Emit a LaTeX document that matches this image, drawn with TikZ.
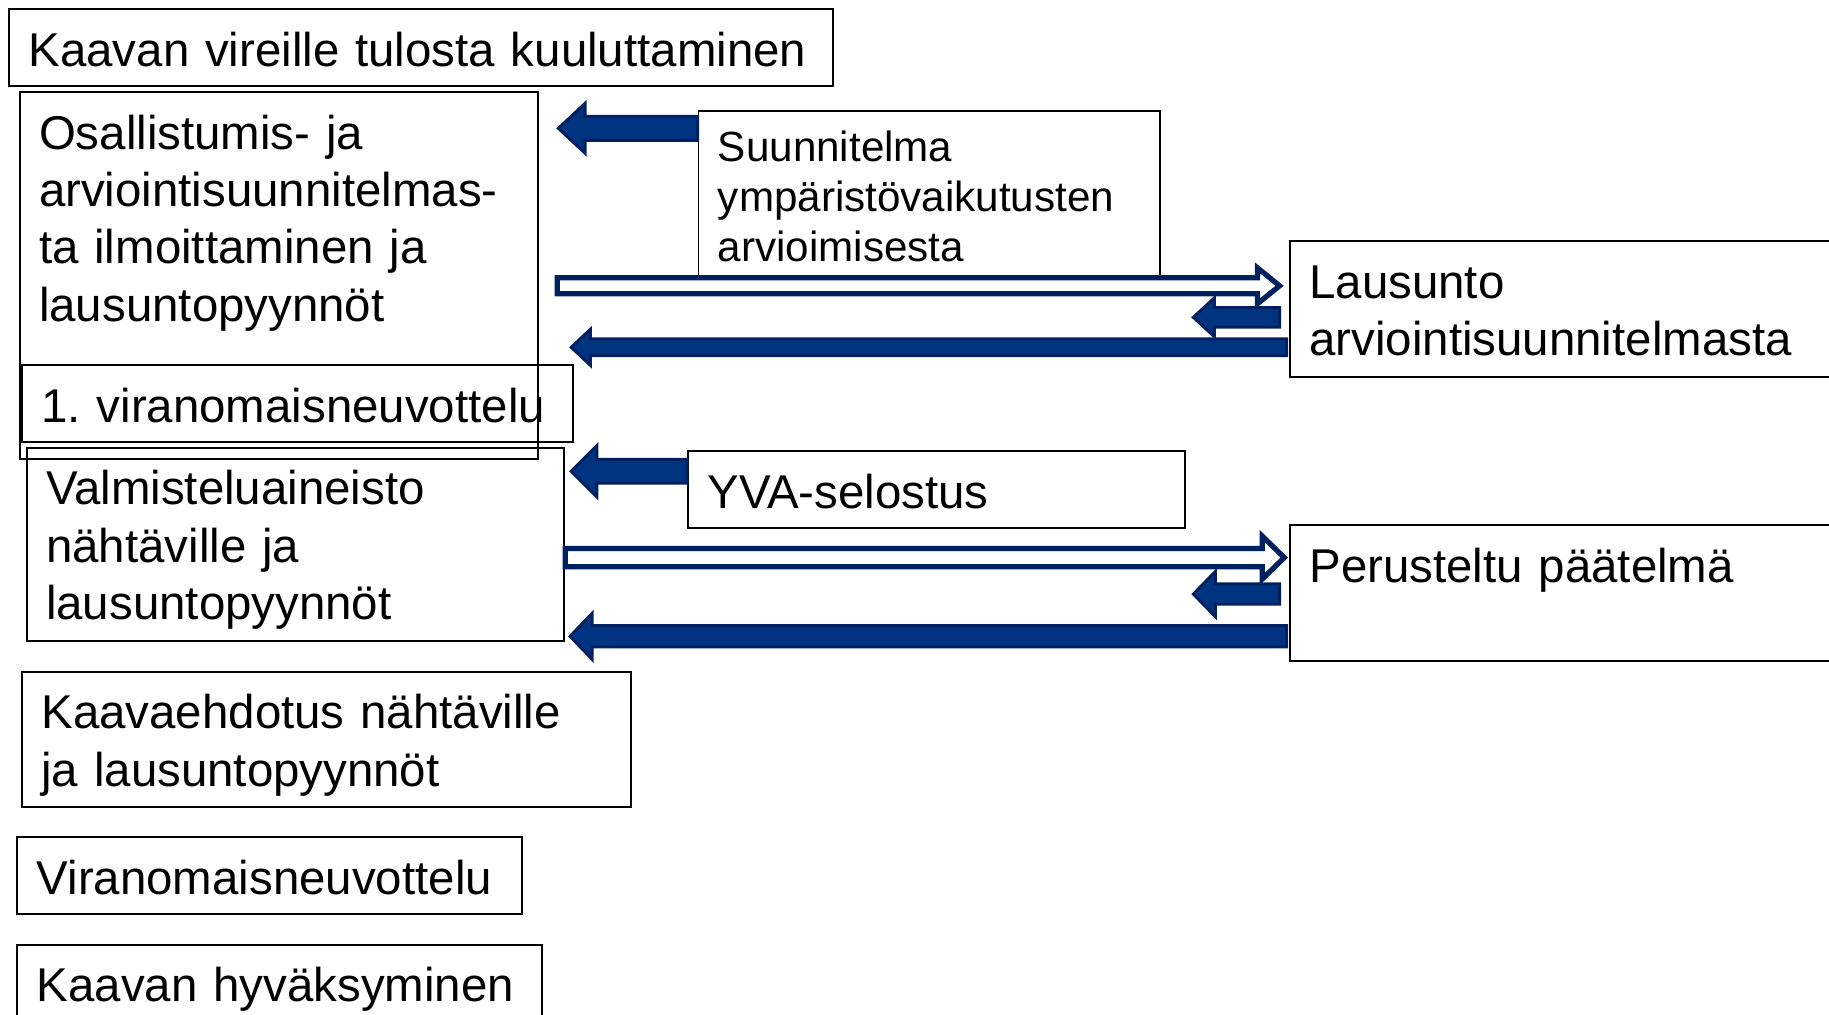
\documentclass[tikz,border=0pt]{standalone}
\usepackage{fontspec}
\setmainfont{Liberation Sans}
\usetikzlibrary{calc}
\frenchspacing
\hyphenpenalty=10000
\definecolor{navyfill}{RGB}{0,51,128}
\definecolor{navyline}{RGB}{0,32,96}
\tikzset{
    box/.style = {draw=black, line width=1pt, anchor=north west, inner xsep=10pt, inner ysep=0pt,
                  align=left, text height=29.4pt, font=\fontsize{24.4}{29.5}\selectfont},
    smallbox/.style = {box, text height=26.1pt, font=\fontsize{21.7}{25.8}\selectfont},
    fullarrow/.style = {fill=navyfill, draw=navyline, line width=1.5pt, line join=miter},
    openarrow/.style = {fill=white, draw=navyline, line width=2.7pt, line join=miter}
}
% block arrow: [style]{tail}{tip}{shaft half}{head half}{head length}
\newcommand{\blockarrow}[6][fullarrow]{%
  \draw[#1] let \p1=#2, \p2=#3, \n1={sign(\x2-\x1)} in
    (\x1,{\y1+#4*0.6pt}) -- ({\x2-(\n1)*#6*0.6pt},{\y1+#4*0.6pt})
    -- ({\x2-(\n1)*#6*0.6pt},{\y1+#5*0.6pt}) -- (\x2,\y1)
    -- ({\x2-(\n1)*#6*0.6pt},{\y1-#5*0.6pt}) -- ({\x2-(\n1)*#6*0.6pt},{\y1-#4*0.6pt})
    -- (\x1,{\y1-#4*0.6pt}) -- cycle;}

\begin{document}
\begin{tikzpicture}[x=0.6pt, y=-0.6pt]
  \useasboundingbox (0,0) rectangle (1568,870);
  \clip (0,0) rectangle (1568,870);

  % process steps
  \node[box, text width=403.6pt, text depth=10.2pt] (kuul) at (7,7) {Kaavan vireille tulosta kuuluttaminen};
  \node[box, text width=246.4pt, text depth=159.6pt] (osal) at (16,78)
    {Osallistumis- ja\\ arviointisuunnitelmas-\\ ta ilmoittaminen ja\\ lausuntopyynnöt};
  \node[box, text width=263.2pt, text depth=10.2pt] (neuv1) at (18,312) {1.~viranomaisneuvottelu};
  \node[box, text width=256.6pt, text depth=70.2pt] (valm) at (22,383)
    {Valmisteluaineisto\\ nähtäville ja\\ lausuntopyynnöt};
  \node[box, text width=293.2pt, text depth=40.2pt] (ehd) at (18,575)
    {Kaavaehdotus nähtäville\\ ja lausuntopyynnöt};
  \node[box, text width=239.8pt, text depth=10.2pt] (neuv2) at (14,717) {Viranomaisneuvottelu};
  \node[box, text width=250pt, text depth=30.6pt] (hyv) at (14,809) {Kaavan hyväksyminen};

  % YVA side
  \node[smallbox, text width=217.6pt, text depth=59.7pt] (suun) at (598,94)
    {Suunnitelma\\ ympäristövaikutusten\\ arvioimisesta};
  \node[box, text width=280pt, text depth=40.2pt] (laus) at (1105,206)
    {Lausunto\\ arviointisuunnitelmasta};
  \node[box, text width=235.6pt, text depth=10.2pt] (yva) at (589,386) {YVA-selostus};
  \node[box, text width=280pt, text depth=40.5pt] (pere) at (1105,449.5) {Perusteltu päätelmä};

  \foreach \n/\y in {1/110, 2/245, 3/272, 4/297.7, 5/404, 6/478, 7/509.3, 8/545.5}
    \coordinate (r\n) at (0,\y);

  % arrows
  \blockarrow{(suun.west |- r1)}{($(osal.east |- r1)+(17,0)$)}{10.3}{21.5}{23}
  \blockarrow[openarrow]{($(osal.east |- r2)+(16,0)$)}{($(laus.west |- r2)+(-8,0)$)}{6.9}{15.4}{19}
  \blockarrow{($(laus.west |- r3)+(-8,0)$)}{($(laus.west |- r3)+(-82,0)$)}{8.4}{16.6}{18}
  \blockarrow{($(laus.west |- r4)+(-2,0)$)}{($(osal.east |- r4)+(28,0)$)}{7.2}{15.5}{16.5}
  \blockarrow{(yva.west |- r5)}{($(valm.east |- r5)+(5,0)$)}{10.2}{22}{22}
  \blockarrow[openarrow]{(valm.east |- r6)}{($(pere.west |- r6)+(-4,0)$)}{7.8}{18.5}{19}
  \blockarrow{($(pere.west |- r7)+(-8,0)$)}{($(pere.west |- r7)+(-82,0)$)}{8.7}{19.5}{19}
  \blockarrow{($(pere.west |- r8)+(-2,0)$)}{($(valm.east |- r8)+(4,0)$)}{9.1}{19.8}{19}
\end{tikzpicture}
\end{document}
